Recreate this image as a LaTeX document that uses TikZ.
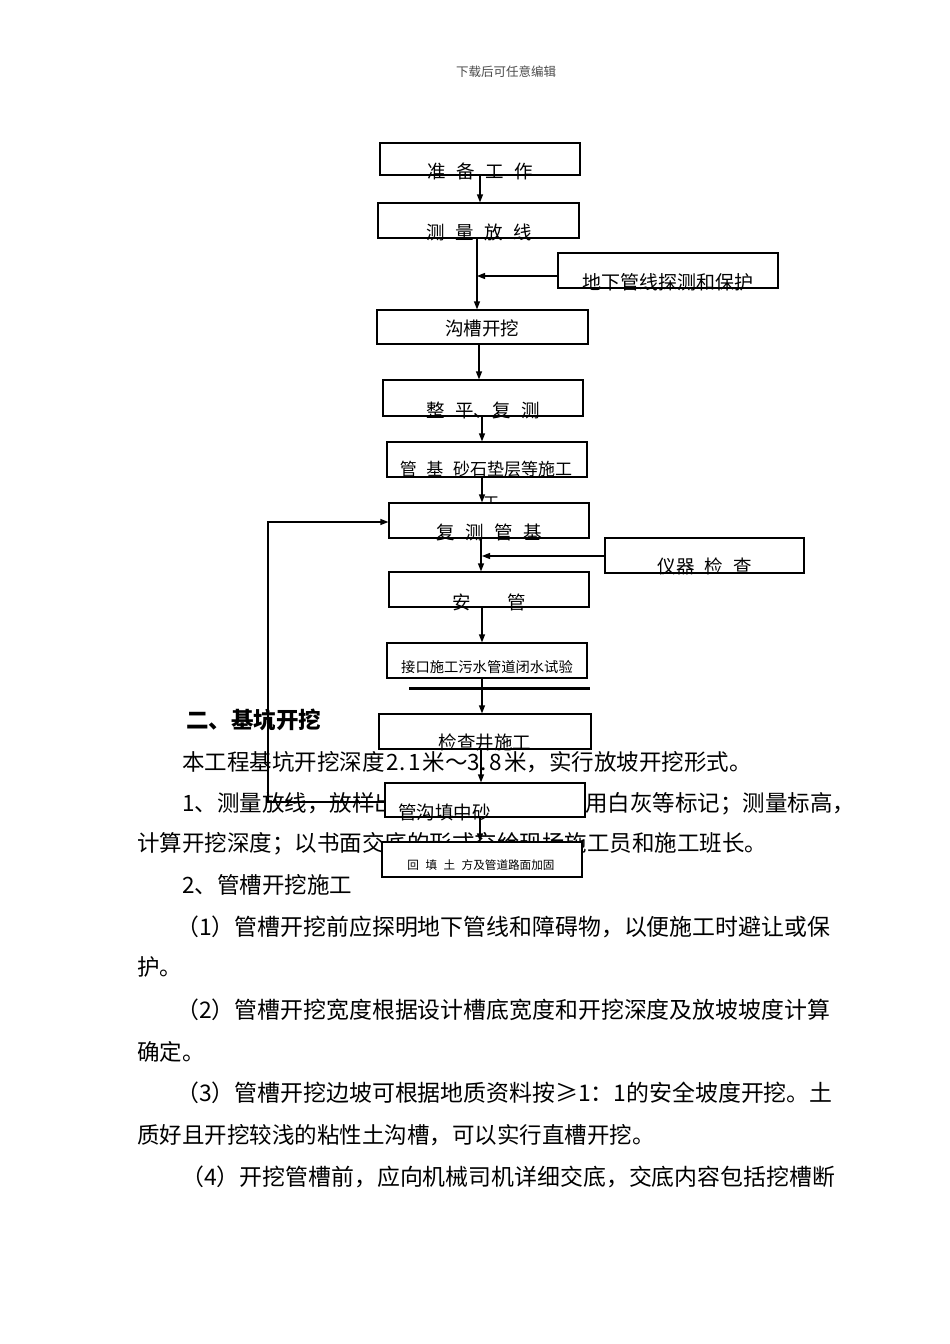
\documentclass[tikz,border=0pt]{standalone}
\usepackage{fontspec}
\setmainfont{Noto Sans CJK SC}[WordSpace=2.5]
\usetikzlibrary{arrows.meta}
\begin{document}
\begin{tikzpicture}[x=1pt,y=-1pt,
  box/.style={draw, line width=1.2pt, fill=white, inner sep=0pt},
  arr/.style={line width=1.2pt, -{Triangle[length=8pt,width=6pt]}},
  ln/.style={line width=1.2pt},
  body/.style={anchor=base west, inner sep=0pt, font=\fontsize{22.5}{27}\selectfont},
  bodyp/.style={anchor=base west, inner sep=0pt, font=\fontsize{22.9}{27}\selectfont},
  ftext/.style={inner sep=0pt, font=\fontsize{18.5}{22}\selectfont},
  stext/.style={inner sep=0pt, font=\fontsize{14.3}{17}\selectfont},
  xstext/.style={inner sep=0pt, font=\fontsize{11.6}{14}\selectfont},
  hdr/.style={inner sep=0pt, text=black!70, font=\fontsize{12.5}{15}\selectfont}]
\useasboundingbox[fill=white] (0,0) rectangle (950,1344);

% header
\node[hdr] (hd) at (506,72) {下载后可任意编辑};

% body text
\node[body, font=\fontsize{22.5}{27}\selectfont\bfseries] (p0) at (186,728.5) {二、基坑开挖};
\node[body] (p1) at (182,770.5) {本工程基坑开挖深度\kern2pt 2.\kern3pt 1\kern2pt 米～3.\kern3pt 8\kern2pt 米，实行放坡开挖形式。};
\node[body] (p2a) at (182,811.5) {1、测量放线，放样出};
\node[body] (p2b) at (585,811.5) {用白灰等标记；测量标高，};
\node[body] (p3) at (137,851.5) {计算开挖深度；以书面交底的形式交给现场施工员和施工班长。};
\node[body] (p4) at (182,893.5) {2、管槽开挖施工};
\node[bodyp] (p5) at (176,935.5) {（1）管槽开挖前应探明地下管线和障碍物，以便施工时避让或保};
\node[body] (p6) at (137,975.5) {护。};
\node[bodyp] (p7) at (176,1018.5) {（2）管槽开挖宽度根据设计槽底宽度和开挖深度及放坡坡度计算};
\node[body] (p8) at (137,1060.5) {确定。};
\node[bodyp] (p9) at (176,1101.5) {（3）管槽开挖边坡可根据地质资料按≥1：1的安全坡度开挖。土};
\node[body] (p10) at (137,1143.5) {质好且开挖较浅的粘性土沟槽，可以实行直槽开挖。};
\node[bodyp] (p11) at (181,1185.5) {（4）开挖管槽前，应向机械司机详细交底，交底内容包括挖槽断};

% overflow fragment under box b7
\node[ftext, font=\fontsize{16}{18}\selectfont] (frag) at (491,503) {工};

% boxes
\node[box, minimum width=200pt, minimum height=32pt] (b1) at (480,159) {};
\node[box, minimum width=201pt, minimum height=35pt] (b2) at (478.5,220.5) {};
\node[box, minimum width=220pt, minimum height=35pt] (b3) at (668,270.5) {};
\node[box, minimum width=211pt, minimum height=34pt] (b4) at (482.5,327) {};
\node[box, minimum width=200pt, minimum height=36pt] (b5) at (483,398) {};
\node[box, minimum width=200pt, minimum height=35pt] (b6) at (487,459.5) {};
\node[box, minimum width=200pt, minimum height=35pt] (b7) at (489,520.5) {};
\node[box, minimum width=199pt, minimum height=35pt] (b8) at (704.5,555.5) {};
\node[box, minimum width=200pt, minimum height=35pt] (b9) at (489,589.5) {};
\node[box, minimum width=200pt, minimum height=35pt] (b10) at (487,660.5) {};
\node[box, minimum width=212pt, minimum height=35pt] (b11) at (485,731.5) {};
\node[box, minimum width=200pt, minimum height=34pt] (b12) at (485,800) {};
\node[box, minimum width=200pt, minimum height=35pt] (b13) at (482,859.5) {};

% helper coordinates
\coordinate (j1) at (477,276);
\coordinate (j2) at (482,556);
\coordinate (f1) at (268,802);
\coordinate (f2) at (268,522);
\coordinate (t1) at (409,688);
\coordinate (t2) at (590,688);

% connectors
\draw[arr] (b1.south -| 480,0) -- (b2.north -| 480,0);
\draw[arr] (b2.south -| 477,0) -- (b4.north -| 477,0);
\draw[arr] (b3.west |- j1) -- (j1);
\draw[arr] (b4.south -| 479,0) -- (b5.north -| 479,0);
\draw[arr] (b5.south -| 482,0) -- (b6.north -| 482,0);
\draw[arr] (b6.south -| 482,0) -- (b7.north -| 482,0);
\draw[arr] (b7.south -| 481,0) -- (b9.north -| 481,0);
\draw[arr] (b8.west |- j2) -- (j2);
\draw[arr] (b9.south -| 482,0) -- (b10.north -| 482,0);
\draw[arr] (b10.south -| 482,0) -- (b11.north -| 482,0);
\draw[arr] (b11.south -| 481,0) -- (b12.north -| 481,0);
\draw[arr] (b12.south -| 480,0) -- (b13.north -| 480,0);
\draw[arr] (b12.west |- f1) -- (f1) -- (f2) -- (b7.west |- f2);
\draw[line width=3pt] (t1) -- (t2);

% box texts
\node[ftext] (x1) at (480,171) {准 备 工 作};
\node[ftext] (x2) at (479,232) {测 量 放 线};
\node[ftext, font=\fontsize{19}{22}\selectfont] (x3) at (668,282) {地下管线探测和保护};
\node[ftext] (x4) at (482,328) {沟槽开挖};
\node[ftext] (x5) at (483,410) {整 平、复 测};
\node[ftext, font=\fontsize{17}{20}\selectfont] (x6) at (486,469) {管 基 砂石垫层等施工};
\node[ftext] (x7) at (489,532) {复 测 管 基};
\node[ftext] (x8) at (705,566) {仪器 检 查};
\node[ftext] (x9) at (489,602) {安　　管};
\node[stext] (x10) at (487,667) {接口施工污水管道闭水试验};
\node[ftext] (x11) at (485,742) {检查井施工};
\node[ftext, anchor=west] (x12) at (398,812) {管沟填中砂};
\node[xstext] (x13) at (481,865) {回 填 土 方及管道路面加固};
\end{tikzpicture}
\end{document}
